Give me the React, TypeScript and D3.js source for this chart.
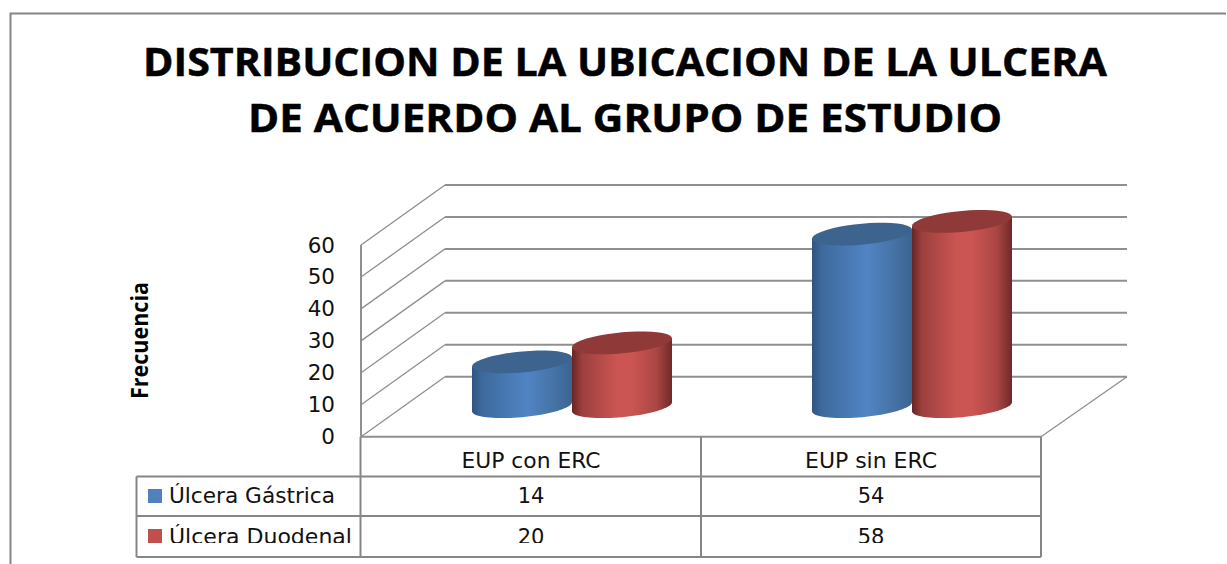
import React from "react";
import * as d3 from "d3";

const titleLines = ["DISTRIBUCION DE LA UBICACION DE LA ULCERA", "DE ACUERDO AL GRUPO DE ESTUDIO"];
const categories = ["EUP con ERC", "EUP sin ERC"];
const seriesNames = ["Úlcera Gástrica", "Úlcera Duodenal"];
const gastrica = [14, 54];
const duodenal = [20, 58];
const yTicks = [0, 10, 20, 30, 40, 50, 60];
const seriesValues = [gastrica, duodenal];

const W = 1227, H = 564;
const GRID = "#8f8f8f";
const FRAME = "#868686";
const SANS = "'DejaVu Sans', sans-serif";
const BOLD = "'Open Sans', sans-serif";

const yFront = d3.scaleLinear().domain([0, 60]).range([436.7, 245]);
const yBack = d3.scaleLinear().domain([0, 60]).range([376.7, 185]);
const xFront = d3.scaleBand().domain(categories).range([361, 1041]);
const depthX = 84;
const xSeries = d3.scaleBand().domain(seriesNames).range([-100, 100]);

const RX = 50, RY = 10.5, SKEW = 4.5;
const ellipsePts = (cx: number, cy: number, from: number, to: number) =>
  d3.range(0, 41).map((i) => {
    const t = from + ((to - from) * i) / 40;
    return [cx + RX * Math.cos(t), cy + RY * Math.sin(t) - SKEW * Math.cos(t)] as [number, number];
  });
const line = d3.line();

const colors = [
  { id: "gBlue", top: "#3d648f", stops: [["0%", "#2f5480"], ["10%", "#3d6a9c"], ["55%", "#5084c4"], ["80%", "#4774a8"], ["100%", "#3a6491"]] },
  { id: "gRed", top: "#8f3a38", stops: [["0%", "#672523"], ["10%", "#9c403e"], ["45%", "#cb5552"], ["60%", "#cb5552"], ["85%", "#a94644"], ["100%", "#6f2927"]] },
];
const swatches = ["#4f81bd", "#c0504d"];

const rowTops = [476.5, 516, 557];
const verticals = [360.5, 701, 1041];
const categoryWidths = [139, 132];

export default function App() {
  const baseY = (yFront(0) + yBack(0)) / 2;
  const bars = categories.flatMap((c, ci) =>
    seriesNames.map((s, si) => {
      const v = seriesValues[si][ci];
      const cx = xFront(c)! + xFront.bandwidth() / 2 + depthX / 2 - 1 + xSeries(s)! + xSeries.bandwidth() / 2;
      const h = yFront(0) - yFront(v);
      const topY = baseY - h;
      const lower = ellipsePts(cx, baseY, Math.PI, 0);
      const side = line([[cx - RX, topY + SKEW], ...lower, [cx + RX, topY - SKEW]])! + "Z";
      const top = line(ellipsePts(cx, topY, 0, Math.PI * 2))! + "Z";
      return { key: c + s, side, top, si };
    })
  );

  return (
    <svg width={W} height={H} style={{ position: "fixed", left: 0, top: 0, display: "block", background: "#fff" }}>
      <defs>
        {colors.map((c) => (
          <linearGradient key={c.id} id={c.id} x1="0" x2="1" y1="0" y2="0">
            {c.stops.map(([o, col]) => <stop key={o} offset={o} stopColor={col} />)}
          </linearGradient>
        ))}
        <clipPath id="rowClip"><rect x={137} y={517} width={910} height={26} /></clipPath>
      </defs>

      <path d={`M10.5,${H}V13.5H${W - 1}`} fill="none" stroke={FRAME} strokeWidth={2} />

      {titleLines.map((t, i) => (
        <text key={t} x={[143, 248][i]} y={[75.5, 131.5][i]} textLength={[964, 754][i]} lengthAdjust="spacingAndGlyphs"
          fontFamily={BOLD} fontWeight={700} fontSize={40} fill="#000" stroke="#000" strokeWidth={0.5}>{t}</text>
      ))}

      {/* walls */}
      {yTicks.map((v) => (
        <g key={v} fill="none" stroke={GRID}>
          <path d={line([[361, yFront(v)], [361 + depthX, yBack(v)]])!} strokeWidth={1.3} />
          <path d={line([[361 + depthX, yBack(v)], [1127, yBack(v)]])!} strokeWidth={2} />
        </g>
      ))}
      <path d={line([[361, yFront(60)], [361, yFront(0)]])!} fill="none" stroke={GRID} strokeWidth={2} />
      <path d={line([[1041, yFront(0)], [1127, yBack(0)]])!} fill="none" stroke={GRID} strokeWidth={1.3} />
      <path d={line([[361, yFront(0)], [1041, yFront(0)]])!} fill="none" stroke={GRID} strokeWidth={2} />

      {bars.map((b) => (
        <g key={b.key}>
          <path d={b.side} fill={`url(#${colors[b.si].id})`} />
          <path d={b.top} fill={colors[b.si].top} />
        </g>
      ))}

      {yTicks.map((v) => (
        <text key={v} x={335} y={yFront(v) + 7.5} textAnchor="end" fontFamily={SANS} fontSize={21.5} fill="#111">{v}</text>
      ))}

      <text transform="translate(148,399) rotate(-90)" textLength={117} lengthAdjust="spacingAndGlyphs"
        fontFamily={BOLD} fontWeight={700} fontSize={23} fill="#000">Frecuencia</text>

      {/* data table */}
      <g fill="none" stroke={FRAME} strokeWidth={2}>
        {verticals.map((x) => <path key={x} d={`M${x},${yFront(0)}V${rowTops[2]}`} />)}
        <path d={`M136.5,${rowTops[0]}V${rowTops[2]}`} />
        {rowTops.map((y) => <path key={y} d={`M136.5,${y}H1041`} />)}
      </g>

      {categories.map((c, ci) => (
        <text key={c} x={xFront(c)! + xFront.bandwidth() / 2} y={468} textAnchor="middle" textLength={categoryWidths[ci]} lengthAdjust="spacingAndGlyphs"
          fontFamily={SANS} fontSize={21} fill="#111">{c}</text>
      ))}

      {seriesNames.map((s, si) => {
        const baseline = [503, 544][si];
        return (
          <g key={s} clipPath={si === 1 ? "url(#rowClip)" : undefined}>
            <rect x={148} y={[489, 529][si]} width={14} height={14} fill={swatches[si]} />
            <text x={169} y={baseline} textLength={[166, 183][si]} lengthAdjust="spacingAndGlyphs" fontFamily={SANS} fontSize={21} fill="#111">{s}</text>
            {categories.map((c, ci) => (
              <text key={c} x={xFront(c)! + xFront.bandwidth() / 2} y={baseline} textAnchor="middle" fontFamily={SANS} fontSize={21} fill="#111">{seriesValues[si][ci]}</text>
            ))}
          </g>
        );
      })}
    </svg>
  );
}
